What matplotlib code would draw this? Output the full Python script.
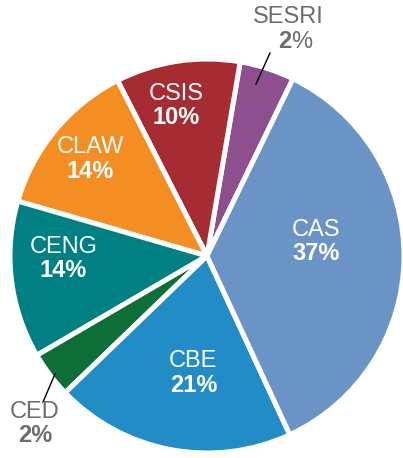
import numpy as np
import matplotlib.pyplot as plt

# slice sizes as drawn (counter-clockwise from the top), and the printed labels
names = ['SESRI', 'CSIS', 'CLAW', 'CENG', 'CED', 'CBE', 'CAS']
sizes = [4.5, 10.2, 13.0, 12.9, 3.8, 19.7, 35.9]
pct_labels = ['2%', '10%', '14%', '14%', '2%', '21%', '37%']
colors = ['#8E4F8F', '#A62B32', '#F48D22', '#018083', '#0D6E37', '#228CC6', '#6B94C6']

plt.rcParams['font.family'] = ['Liberation Sans', 'DejaVu Sans']

fig = plt.figure(figsize=(4.03, 4.58), dpi=100)
ax = fig.add_axes([0, 0, 1, 1])

cx, cy, R = 207, 458 - 256, 197
wedges, _ = ax.pie(sizes, colors=colors, startangle=64.1, counterclock=True,
                   center=(cx, cy), radius=R,
                   wedgeprops=dict(edgecolor='white', linewidth=3.6))
ax.set_xlim(0, 403)
ax.set_ylim(0, 458)
ax.set_aspect('equal')
ax.axis('off')

# labels inside the slices
inside = {'CSIS': 0.78, 'CLAW': 0.77, 'CENG': 0.73, 'CBE': 0.60, 'CAS': 0.56}
shift = {'CSIS': 3, 'CLAW': 0, 'CENG': -6, 'CBE': 4, 'CAS': 8}
for w, name, pct in zip(wedges, names, pct_labels):
    if name not in inside:
        continue
    mid = np.deg2rad((w.theta1 + w.theta2) / 2 + shift[name])
    x = cx + inside[name] * R * np.cos(mid)
    y = cy + inside[name] * R * np.sin(mid)
    ax.text(x, y + 12, name, color='white', fontsize=17, ha='center', va='center')
    ax.text(x, y - 12, pct, color='white', fontsize=17, fontweight='bold',
            ha='center', va='center')

grey = '#6d6d6d'
# SESRI outside label
ax.text(288, 458 - 17, 'SESRI', color=grey, fontsize=17, ha='center', va='center')
ax.text(291, 458 - 42, '2', color=grey, fontsize=17, fontweight='bold', ha='right', va='center')
ax.text(291, 458 - 42, '%', color=grey, fontsize=17, ha='left', va='center')
ax.plot([270, 256], [458 - 53, 458 - 84], color='black', lw=1)

# CED outside label
ax.text(35, 458 - 412, 'CED', color=grey, fontsize=17, ha='center', va='center')
ax.text(35, 458 - 436, '2%', color=grey, fontsize=17, fontweight='bold', ha='center', va='center')
ax.plot([43, 55], [458 - 402, 458 - 374], color='black', lw=1)

fig.savefig('out.png', dpi=100)
